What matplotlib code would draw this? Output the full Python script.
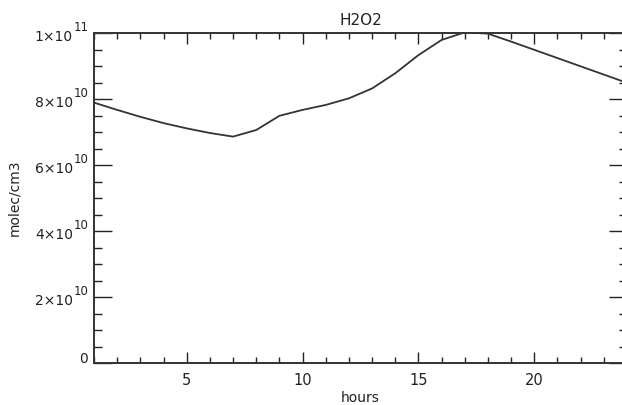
import numpy as np
import matplotlib
matplotlib.use('Agg')
import matplotlib.pyplot as plt
from matplotlib.ticker import MultipleLocator, NullFormatter

# hourly H2O2 column (molec/cm3)
hours = [1, 2, 3, 4, 5, 6, 7, 8, 9, 10, 11, 12,
         13, 14, 15, 16, 17, 18, 19, 20, 21, 22, 23, 24]
h2o2 = [7.89e10, 7.67e10, 7.46e10, 7.27e10, 7.11e10, 6.97e10, 6.86e10, 7.06e10,
        7.49e10, 7.67e10, 7.82e10, 8.02e10, 8.32e10, 8.78e10, 9.33e10, 9.79e10,
        10.02e10, 9.98e10, 9.74e10, 9.49e10, 9.24e10, 8.99e10, 8.74e10, 8.49e10]

# y tick values with mantissa / exponent for the labels
ytick_vals = [0, 2e10, 4e10, 6e10, 8e10, 1e11]
ytick_mant = ['0', '2', '4', '6', '8', '1']
ytick_exp = ['', '10', '10', '10', '10', '11']

plt.rcParams['font.family'] = ['DejaVu Sans']
txtcol = '#222222'

fig = plt.figure(figsize=(6.22, 4.05), dpi=100)
# axes run a little past the right edge of the canvas
ax = fig.add_axes([94/622, 42/405, 533/622, 330/405])

ax.plot(hours, h2o2, color='#333333', linewidth=1.3)

ax.set_xlim(1, 24)
ax.set_ylim(0, 1e11)

ax.xaxis.set_major_locator(MultipleLocator(5))
ax.xaxis.set_minor_locator(MultipleLocator(1))
ax.set_yticks(ytick_vals)
ax.yaxis.set_minor_locator(MultipleLocator(5e9))
ax.yaxis.set_major_formatter(NullFormatter())

ax.tick_params(axis='both', which='both', direction='in', top=True, right=True,
               labelsize=10.5, colors=txtcol, width=1.0)
ax.tick_params(axis='x', which='major', length=8, pad=7)
ax.tick_params(axis='x', which='minor', length=4)
ax.tick_params(axis='y', which='major', length=13)
ax.tick_params(axis='y', which='minor', length=6)

# IDL-style labels: "8x10" with a near full-size exponent
ytr = ax.get_yaxis_transform()
for v, m, e in zip(ytick_vals, ytick_mant, ytick_exp):
    if e == '':
        ax.annotate(m, xy=(0, v), xycoords=ytr, xytext=(-6, 0),
                    textcoords='offset pixels', ha='right', va='baseline',
                    fontsize=10, color=txtcol)
        continue
    ax.annotate(m + '\u00d710', xy=(0, v), xycoords=ytr, xytext=(-21, -8),
                textcoords='offset pixels', ha='right', va='baseline',
                fontsize=10, color=txtcol)
    ax.annotate(e, xy=(0, v), xycoords=ytr, xytext=(-20, 2),
                textcoords='offset pixels', ha='left', va='baseline',
                fontsize=8.5, color=txtcol)

for s in ax.spines.values():
    s.set_linewidth(1.4)
    s.set_color('#333333')

ax.set_title('H2O2', fontsize=11, pad=6, color=txtcol)
ax.set_xlabel('hours', fontsize=10, labelpad=2, color=txtcol)
ax.set_ylabel('molec/cm3', fontsize=10, color=txtcol)
ax.yaxis.set_label_coords((21 - 94) / 533, 0.5)

plt.savefig('out.png', dpi=100)
